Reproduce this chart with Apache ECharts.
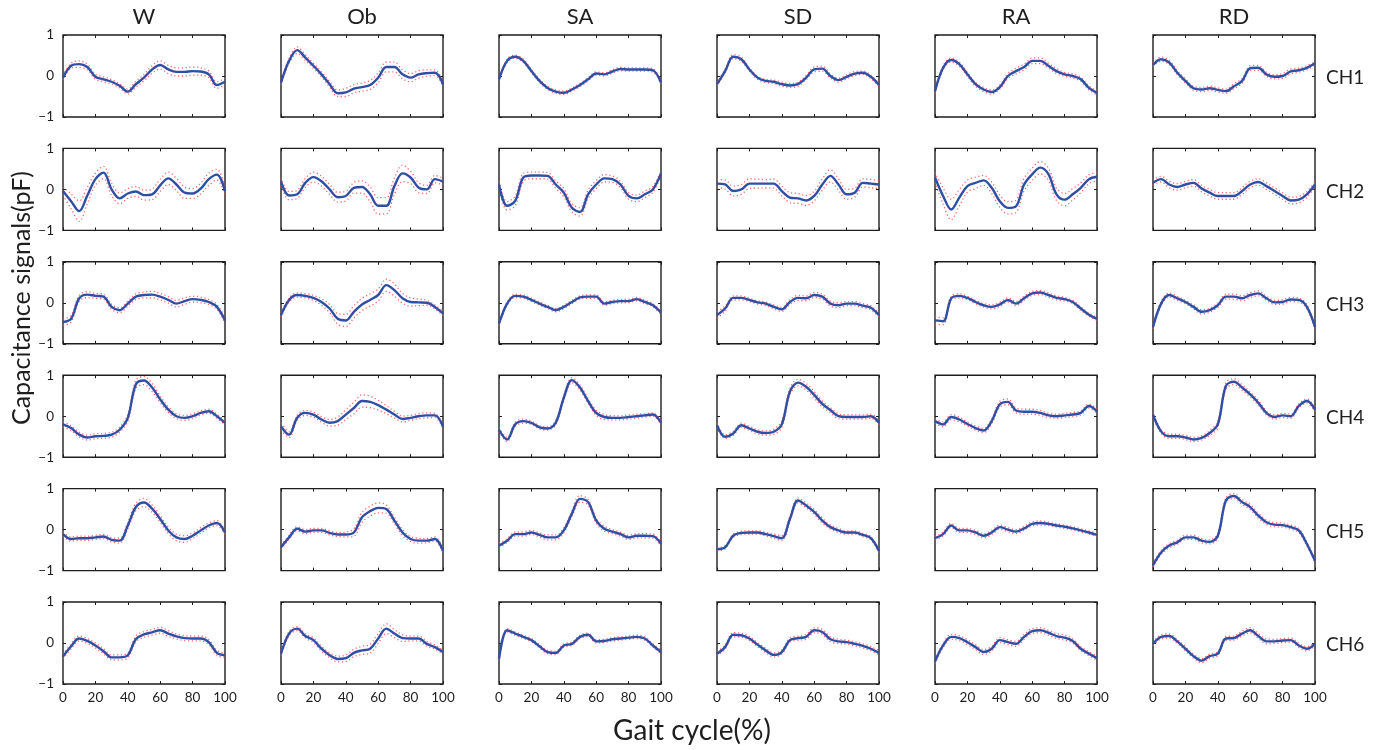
<!DOCTYPE html>
<html><head><meta charset="utf-8">
<script src="https://cdn.jsdelivr.net/npm/echarts@6/dist/echarts.min.js"></script>
<style>html,body{margin:0;padding:0;background:#fff}#c{width:1390px;height:750px}</style>
</head><body><div id="c"></div>
<script>
// ---- data ----
const xPct = [0,5,10,15,20,25,30,35,40,45,50,55,60,65,70,75,80,85,90,95,100];
const xTickLabels = ['0','20','40','60','80','100'];
const yTickLabels = ['−1','0','1'];
const conditions = ['W','Ob','SA','SD','RA','RD'];
const channels = ['CH1','CH2','CH3','CH4','CH5','CH6'];
const xTitle = 'Gait cycle(%)';
const yTitle = 'Capacitance signals(pF)';

// mean curves (blue)
const W_CH1  = [-0.04,0.25,0.29,0.22,-0.02,-0.08,-0.14,-0.24,-0.38,-0.2,-0.04,0.16,0.27,0.16,0.1,0.1,0.12,0.11,0.04,-0.22,-0.14];
const Ob_CH1 = [-0.16,0.37,0.63,0.45,0.25,0.04,-0.2,-0.42,-0.4,-0.31,-0.27,-0.22,-0.04,0.22,0.22,0.04,-0.04,0.04,0.07,0.08,-0.2];
const SA_CH1 = [-0.08,0.37,0.47,0.37,0.12,-0.12,-0.29,-0.38,-0.41,-0.33,-0.22,-0.08,0.06,0.04,0.11,0.17,0.16,0.16,0.16,0.14,-0.16];
const SD_CH1 = [-0.2,0.12,0.47,0.41,0.16,-0.04,-0.12,-0.14,-0.2,-0.23,-0.2,-0.04,0.16,0.18,0,-0.1,-0.02,0.06,0.08,-0.02,-0.22];
const RA_CH1 = [-0.37,0.2,0.39,0.29,0.04,-0.2,-0.33,-0.39,-0.27,0,0.12,0.22,0.37,0.37,0.25,0.12,0.04,0,-0.08,-0.29,-0.41];
const RD_CH1 = [0.27,0.41,0.33,0.08,-0.12,-0.3,-0.33,-0.3,-0.34,-0.37,-0.25,-0.12,0.19,0.2,0.04,-0.02,0,0.11,0.14,0.2,0.31];

const W_CH2  = [-0.04,-0.29,-0.53,-0.15,0.25,0.41,0,-0.22,-0.1,-0.05,-0.14,-0.12,0.1,0.27,0.12,-0.08,-0.1,0.02,0.25,0.36,-0.04];
const Ob_CH2 = [0.19,-0.15,-0.12,0.16,0.3,0.2,0,-0.19,-0.16,0.04,0.06,-0.12,-0.4,-0.4,0.08,0.39,0.29,0.04,0,0.25,0.19];
const SA_CH2 = [0.12,-0.4,-0.28,0.29,0.34,0.34,0.33,0.12,-0.08,-0.45,-0.55,-0.12,0.12,0.27,0.25,0.12,-0.16,-0.22,-0.12,0,0.39];
const SD_CH2 = [0.14,0.12,-0.04,0,0.14,0.14,0.14,0.14,-0.04,-0.2,-0.22,-0.27,-0.16,0.12,0.33,0.12,-0.12,-0.08,0.16,0.14,0.12];
const RA_CH2 = [0.29,-0.16,-0.49,-0.2,0.08,0.16,0.22,0.04,-0.29,-0.45,-0.41,0.12,0.37,0.53,0.37,-0.12,-0.25,-0.12,0.04,0.25,0.31];
const RD_CH2 = [0.16,0.25,0.12,0.06,0.12,0.16,0.02,-0.08,-0.16,-0.16,-0.16,-0.04,0.12,0.18,0.08,-0.04,-0.16,-0.27,-0.25,-0.12,0.12];

const W_CH3  = [-0.47,-0.39,0.11,0.2,0.17,0.15,-0.1,-0.18,-0.02,0.15,0.19,0.2,0.15,0.07,-0.02,0.04,0.09,0.07,0.02,-0.1,-0.43];
const Ob_CH3 = [-0.3,0.07,0.19,0.17,0.12,0.02,-0.14,-0.39,-0.43,-0.22,-0.04,0.07,0.19,0.43,0.31,0.11,0.02,0.01,0,-0.1,-0.26];
const SA_CH3 = [-0.51,-0.02,0.17,0.15,0.07,-0.02,-0.1,-0.18,-0.1,0.02,0.13,0.15,0.15,-0.02,0.02,0.04,0.04,0.09,0.02,-0.06,-0.24];
const SD_CH3 = [-0.3,-0.14,0.12,0.12,0.07,0.01,-0.02,-0.1,-0.16,0.02,0.12,0.11,0.19,0.15,-0.02,-0.06,-0.02,-0.02,-0.07,-0.12,-0.3];
const RA_CH3 = [-0.43,-0.45,0.11,0.17,0.12,0.02,-0.06,-0.1,-0.04,0.07,-0.02,0.11,0.23,0.25,0.19,0.12,0.09,0.02,-0.14,-0.29,-0.39];
const RD_CH3 = [-0.59,-0.02,0.19,0.11,0.02,-0.1,-0.22,-0.18,-0.06,0.15,0.15,0.11,0.19,0.23,0.11,0.01,0.02,0.08,0.07,-0.1,-0.59];

const W_CH4  = [-0.2,-0.29,-0.45,-0.52,-0.49,-0.48,-0.45,-0.33,-0.04,0.78,0.87,0.7,0.41,0.16,0,-0.04,0,0.08,0.12,0,-0.16];
const Ob_CH4 = [-0.25,-0.45,-0.04,0.08,0.04,-0.08,-0.16,-0.12,0.04,0.2,0.37,0.35,0.27,0.16,0.04,-0.07,-0.04,0,0.02,0.02,-0.25];
const SA_CH4 = [-0.33,-0.57,-0.2,-0.12,-0.16,-0.27,-0.3,-0.16,0.45,0.88,0.7,0.37,0.08,-0.02,-0.04,-0.04,-0.02,0,0.02,0.04,-0.16];
const SD_CH4 = [-0.22,-0.5,-0.42,-0.22,-0.3,-0.38,-0.41,-0.38,-0.2,0.6,0.82,0.72,0.52,0.3,0.15,0,-0.02,-0.02,-0.02,0,-0.16];
const RA_CH4 = [-0.12,-0.2,-0.02,-0.08,-0.19,-0.29,-0.35,-0.12,0.29,0.35,0.14,0.11,0.11,0.08,0.02,0,0.02,0.04,0.08,0.25,0.12];
const RD_CH4 = [0.04,-0.37,-0.49,-0.49,-0.52,-0.57,-0.53,-0.41,-0.2,0.74,0.84,0.7,0.53,0.33,0.08,-0.02,0.02,0,0.25,0.37,0.16];

const W_CH5  = [-0.11,-0.23,-0.21,-0.21,-0.19,-0.17,-0.25,-0.27,0.1,0.55,0.66,0.51,0.26,-0.02,-0.19,-0.23,-0.15,-0.02,0.1,0.16,-0.07];
const Ob_CH5 = [-0.43,-0.19,0.02,-0.05,-0.02,-0.02,-0.08,-0.12,-0.12,-0.07,0.3,0.45,0.53,0.5,0.22,-0.07,-0.23,-0.27,-0.27,-0.23,-0.52];
const SA_CH5 = [-0.39,-0.27,-0.11,-0.11,-0.07,-0.13,-0.19,-0.19,-0.02,0.39,0.75,0.67,0.22,0.02,-0.05,-0.11,-0.19,-0.15,-0.15,-0.16,-0.35];
const SD_CH5 = [-0.48,-0.43,-0.15,-0.08,-0.07,-0.07,-0.11,-0.16,-0.21,0.26,0.71,0.59,0.43,0.22,0.06,-0.02,-0.07,-0.07,-0.13,-0.21,-0.52];
const RA_CH5 = [-0.21,-0.11,0.1,-0.02,-0.02,-0.07,-0.15,-0.07,0.06,0,-0.05,0.03,0.14,0.16,0.14,0.1,0.07,0.03,-0.02,-0.07,-0.13];
const RD_CH5 = [-0.87,-0.56,-0.39,-0.31,-0.19,-0.19,-0.27,-0.3,-0.15,0.71,0.82,0.67,0.55,0.34,0.18,0.12,0.11,0.06,-0.02,-0.35,-0.76];

const W_CH6  = [-0.33,-0.08,0.11,0.05,-0.06,-0.2,-0.35,-0.35,-0.3,0.1,0.21,0.26,0.31,0.23,0.16,0.12,0.11,0.11,0.02,-0.24,-0.3];
const Ob_CH6 = [-0.26,0.23,0.35,0.17,0.07,-0.14,-0.3,-0.39,-0.37,-0.24,-0.18,-0.14,0.11,0.35,0.23,0.12,0.11,0.11,-0.02,-0.1,-0.22];
const SA_CH6 = [-0.39,0.31,0.23,0.15,0.07,-0.08,-0.22,-0.24,-0.06,-0.02,0.15,0.2,0.04,0.05,0.09,0.11,0.13,0.15,0.11,-0.06,-0.22];
const SD_CH6 = [-0.26,-0.1,0.2,0.19,0.11,-0.04,-0.18,-0.29,-0.22,0.07,0.12,0.15,0.31,0.27,0.09,0.04,0.02,-0.02,-0.07,-0.14,-0.24];
const RA_CH6 = [-0.45,-0.06,0.15,0.12,0.02,-0.1,-0.22,-0.14,0.07,0.02,-0.02,0.15,0.29,0.31,0.25,0.17,0.13,0.05,-0.14,-0.26,-0.37];
const RD_CH6 = [-0.02,0.15,0.17,0.04,-0.14,-0.32,-0.43,-0.32,-0.26,0.11,0.12,0.23,0.31,0.17,0.04,0.04,0.06,0.07,-0.06,-0.14,-0.02];

// standard deviation band half-widths (red dotted)
const W_CH1_sd  = [0.05,0.06,0.08,0.07,0.06,0.06,0.05,0.05,0.06,0.07,0.08,0.09,0.1,0.1,0.1,0.1,0.1,0.09,0.08,0.08,0.08];
const Ob_CH1_sd = [0.05,0.06,0.08,0.07,0.06,0.06,0.07,0.08,0.1,0.1,0.1,0.11,0.12,0.12,0.12,0.11,0.1,0.09,0.08,0.07,0.06];
const SA_CH1_sd = [0.03,0.04,0.04,0.04,0.04,0.04,0.04,0.04,0.04,0.04,0.04,0.04,0.04,0.04,0.04,0.04,0.04,0.04,0.04,0.04,0.03];
const SD_CH1_sd = [0.04,0.05,0.05,0.05,0.04,0.04,0.04,0.04,0.05,0.05,0.05,0.05,0.06,0.06,0.05,0.05,0.05,0.05,0.04,0.04,0.04];
const RA_CH1_sd = [0.05,0.05,0.05,0.05,0.05,0.05,0.05,0.05,0.05,0.06,0.07,0.07,0.07,0.07,0.06,0.06,0.05,0.05,0.05,0.05,0.05];
const RD_CH1_sd = [0.04,0.05,0.05,0.05,0.05,0.05,0.05,0.05,0.05,0.05,0.06,0.06,0.06,0.06,0.05,0.05,0.06,0.06,0.05,0.05,0.04];

const W_CH2_sd  = [0.1,0.18,0.25,0.2,0.15,0.15,0.15,0.13,0.12,0.12,0.12,0.13,0.15,0.15,0.15,0.14,0.12,0.13,0.15,0.13,0.1];
const Ob_CH2_sd = [0.1,0.1,0.1,0.11,0.12,0.12,0.12,0.12,0.12,0.13,0.15,0.18,0.2,0.2,0.2,0.2,0.15,0.12,0.1,0.09,0.08];
const SA_CH2_sd = [0.08,0.1,0.12,0.1,0.08,0.08,0.08,0.09,0.1,0.1,0.1,0.1,0.1,0.09,0.08,0.08,0.08,0.08,0.08,0.07,0.06];
const SD_CH2_sd = [0.1,0.11,0.12,0.12,0.12,0.11,0.1,0.11,0.12,0.12,0.12,0.12,0.12,0.14,0.15,0.14,0.12,0.11,0.1,0.1,0.1];
const RA_CH2_sd = [0.12,0.2,0.25,0.2,0.15,0.14,0.12,0.14,0.15,0.15,0.15,0.15,0.15,0.15,0.15,0.15,0.15,0.14,0.12,0.11,0.1];
const RD_CH2_sd = [0.06,0.07,0.08,0.08,0.08,0.08,0.08,0.08,0.08,0.08,0.08,0.08,0.08,0.08,0.08,0.08,0.08,0.08,0.08,0.07,0.06];

const W_CH3_sd  = [0.08,0.08,0.07,0.07,0.06,0.06,0.06,0.06,0.06,0.07,0.07,0.08,0.08,0.08,0.08,0.08,0.07,0.07,0.06,0.06,0.05];
const Ob_CH3_sd = [0.05,0.05,0.05,0.05,0.06,0.08,0.1,0.13,0.15,0.15,0.15,0.15,0.15,0.15,0.15,0.12,0.1,0.08,0.06,0.05,0.05];
const SA_CH3_sd = [0.04,0.04,0.04,0.04,0.04,0.04,0.04,0.04,0.04,0.04,0.04,0.04,0.04,0.04,0.04,0.04,0.04,0.04,0.04,0.04,0.04];
const SD_CH3_sd = [0.08,0.06,0.05,0.05,0.04,0.04,0.04,0.05,0.05,0.06,0.06,0.06,0.06,0.06,0.06,0.06,0.05,0.05,0.05,0.05,0.04];
const RA_CH3_sd = [0.1,0.08,0.05,0.05,0.04,0.04,0.04,0.05,0.05,0.05,0.05,0.05,0.05,0.05,0.05,0.05,0.04,0.04,0.04,0.04,0.04];
const RD_CH3_sd = [0.05,0.05,0.05,0.05,0.04,0.05,0.05,0.05,0.05,0.06,0.06,0.06,0.06,0.06,0.05,0.05,0.05,0.05,0.05,0.05,0.05];

const W_CH4_sd  = [0.06,0.06,0.06,0.06,0.06,0.06,0.06,0.06,0.08,0.1,0.1,0.1,0.08,0.07,0.06,0.06,0.06,0.05,0.05,0.05,0.05];
const Ob_CH4_sd = [0.08,0.07,0.06,0.06,0.06,0.07,0.08,0.1,0.12,0.14,0.15,0.14,0.12,0.1,0.08,0.07,0.06,0.06,0.06,0.05,0.05];
const SA_CH4_sd = [0.05,0.05,0.05,0.05,0.04,0.04,0.04,0.05,0.06,0.06,0.06,0.06,0.06,0.06,0.05,0.05,0.05,0.05,0.04,0.04,0.04];
const SD_CH4_sd = [0.05,0.05,0.05,0.05,0.05,0.05,0.05,0.06,0.08,0.08,0.08,0.08,0.08,0.07,0.06,0.06,0.05,0.05,0.05,0.05,0.05];
const RA_CH4_sd = [0.05,0.06,0.06,0.06,0.05,0.05,0.05,0.06,0.07,0.07,0.06,0.06,0.06,0.06,0.05,0.05,0.05,0.05,0.05,0.05,0.05];
const RD_CH4_sd = [0.05,0.05,0.05,0.05,0.05,0.05,0.05,0.06,0.08,0.08,0.07,0.07,0.06,0.06,0.05,0.05,0.05,0.05,0.05,0.05,0.05];

const W_CH5_sd  = [0.05,0.05,0.05,0.05,0.05,0.05,0.05,0.06,0.08,0.09,0.1,0.09,0.08,0.08,0.08,0.08,0.07,0.07,0.06,0.06,0.05];
const Ob_CH5_sd = [0.05,0.05,0.05,0.05,0.05,0.05,0.05,0.05,0.06,0.09,0.12,0.12,0.12,0.1,0.08,0.07,0.06,0.06,0.05,0.05,0.05];
const SA_CH5_sd = [0.05,0.05,0.05,0.05,0.05,0.05,0.06,0.06,0.06,0.07,0.08,0.07,0.06,0.06,0.05,0.05,0.05,0.05,0.05,0.05,0.05];
const SD_CH5_sd = [0.04,0.04,0.04,0.04,0.04,0.04,0.04,0.05,0.06,0.06,0.06,0.06,0.06,0.06,0.05,0.05,0.04,0.04,0.04,0.04,0.04];
const RA_CH5_sd = [0.04,0.05,0.05,0.05,0.05,0.05,0.05,0.05,0.05,0.05,0.05,0.05,0.05,0.05,0.04,0.04,0.04,0.04,0.04,0.04,0.04];
const RD_CH5_sd = [0.04,0.05,0.05,0.05,0.05,0.05,0.05,0.05,0.06,0.06,0.06,0.06,0.06,0.06,0.05,0.05,0.05,0.05,0.05,0.05,0.04];

const W_CH6_sd  = [0.05,0.06,0.06,0.06,0.06,0.06,0.06,0.06,0.06,0.07,0.07,0.07,0.07,0.07,0.06,0.06,0.06,0.06,0.06,0.06,0.05];
const Ob_CH6_sd = [0.05,0.05,0.05,0.05,0.06,0.06,0.06,0.07,0.08,0.09,0.1,0.11,0.12,0.12,0.1,0.08,0.06,0.06,0.06,0.05,0.05];
const SA_CH6_sd = [0.04,0.04,0.04,0.04,0.04,0.04,0.04,0.04,0.04,0.04,0.04,0.04,0.04,0.04,0.04,0.04,0.04,0.04,0.04,0.04,0.04];
const SD_CH6_sd = [0.05,0.05,0.05,0.05,0.05,0.05,0.05,0.05,0.05,0.05,0.05,0.06,0.06,0.06,0.06,0.05,0.05,0.05,0.05,0.05,0.05];
const RA_CH6_sd = [0.05,0.05,0.06,0.06,0.06,0.06,0.06,0.06,0.06,0.06,0.06,0.06,0.06,0.06,0.06,0.06,0.06,0.05,0.05,0.05,0.05];
const RD_CH6_sd = [0.04,0.05,0.05,0.05,0.05,0.05,0.05,0.05,0.05,0.05,0.05,0.06,0.06,0.06,0.06,0.05,0.05,0.05,0.05,0.05,0.04];

const meanRows = [
  [W_CH1,Ob_CH1,SA_CH1,SD_CH1,RA_CH1,RD_CH1],
  [W_CH2,Ob_CH2,SA_CH2,SD_CH2,RA_CH2,RD_CH2],
  [W_CH3,Ob_CH3,SA_CH3,SD_CH3,RA_CH3,RD_CH3],
  [W_CH4,Ob_CH4,SA_CH4,SD_CH4,RA_CH4,RD_CH4],
  [W_CH5,Ob_CH5,SA_CH5,SD_CH5,RA_CH5,RD_CH5],
  [W_CH6,Ob_CH6,SA_CH6,SD_CH6,RA_CH6,RD_CH6]
];
const sdRows = [
  [W_CH1_sd,Ob_CH1_sd,SA_CH1_sd,SD_CH1_sd,RA_CH1_sd,RD_CH1_sd],
  [W_CH2_sd,Ob_CH2_sd,SA_CH2_sd,SD_CH2_sd,RA_CH2_sd,RD_CH2_sd],
  [W_CH3_sd,Ob_CH3_sd,SA_CH3_sd,SD_CH3_sd,RA_CH3_sd,RD_CH3_sd],
  [W_CH4_sd,Ob_CH4_sd,SA_CH4_sd,SD_CH4_sd,RA_CH4_sd,RD_CH4_sd],
  [W_CH5_sd,Ob_CH5_sd,SA_CH5_sd,SD_CH5_sd,RA_CH5_sd,RD_CH5_sd],
  [W_CH6_sd,Ob_CH6_sd,SA_CH6_sd,SD_CH6_sd,RA_CH6_sd,RD_CH6_sd]
];

// ---- layout ----
const FONT = 'Lato, "Open Sans", sans-serif';
const LEFT0 = 63, COLSTEP = 218, GW = 162;
const TOP0 = 35, ROWSTEP = 113.4, GH = 82;
const BLUE = '#2f4ea6', RED = '#ff4a4a', INK = '#1e1e1e';

const grids = [], xAxes = [], yAxes = [], series = [];
for (let r = 0; r < 6; r++) {
  for (let c = 0; c < 6; c++) {
    const g = r * 6 + c;
    grids.push({left: LEFT0 + c * COLSTEP, top: TOP0 + r * ROWSTEP, width: GW, height: GH,
      show: true, borderColor: INK, borderWidth: 1.4, backgroundColor: 'transparent'});
    const xBase = {type: 'value', gridIndex: g, min: 0, max: 100, interval: 20,
      axisLine: {show: false, onZero: false}, splitLine: {show: false},
      axisTick: {inside: true, length: 3, lineStyle: {color: INK, width: 1}}};
    xAxes.push(Object.assign({}, xBase, {position: 'bottom',
      axisLabel: {show: r === 5, margin: 7, color: INK, fontSize: 13.5, fontFamily: FONT,
        formatter: v => xTickLabels[Math.round(v / 20)]}}));
    xAxes.push(Object.assign({}, xBase, {position: 'top', axisLabel: {show: false}}));
    const yBase = {type: 'value', gridIndex: g, min: -1, max: 1, interval: 1,
      axisLine: {show: false, onZero: false}, splitLine: {show: false},
      axisTick: {inside: true, length: 3, lineStyle: {color: INK, width: 1}}};
    yAxes.push(Object.assign({}, yBase, {position: 'left',
      axisLabel: {show: c === 0, margin: 9, color: INK, fontSize: 13.5, fontFamily: FONT,
        formatter: v => yTickLabels[Math.round(v) + 1]}}));
    yAxes.push(Object.assign({}, yBase, {position: 'right', axisLabel: {show: false}}));

    const m = meanRows[r][c], s = sdRows[r][c];
    const up = xPct.map((x, i) => [x, +(m[i] + s[i]).toFixed(3)]);
    const lo = xPct.map((x, i) => [x, +(m[i] - s[i]).toFixed(3)]);
    const mid = xPct.map((x, i) => [x, m[i]]);
    const common = {type: 'line', xAxisIndex: 2 * g, yAxisIndex: 2 * g, symbol: 'none',
      smooth: 0.35, silent: true, animation: false, clip: true};
    series.push(Object.assign({}, common, {name: conditions[c] + ' ' + channels[r] + ' +sd', data: up, z: 2,
      lineStyle: {color: RED, width: 1.3, type: [1.2, 2.6], opacity: 0.85}}));
    series.push(Object.assign({}, common, {name: conditions[c] + ' ' + channels[r] + ' -sd', data: lo, z: 2,
      lineStyle: {color: RED, width: 1.3, type: [1.2, 2.6], opacity: 0.85}}));
    series.push(Object.assign({}, common, {name: conditions[c] + ' ' + channels[r] + ' mean', data: mid, z: 3,
      lineStyle: {color: BLUE, width: 2.4}}));
  }
}

const graphics = [];
conditions.forEach((t, c) => graphics.push({type: 'text', x: LEFT0 + c * COLSTEP + GW / 2, y: 17,
  style: {text: t, fill: INK, font: '22px ' + FONT, textAlign: 'center', textVerticalAlign: 'middle'}}));
channels.forEach((t, r) => graphics.push({type: 'text', x: LEFT0 + 5 * COLSTEP + GW + 11, y: TOP0 + r * ROWSTEP + GH / 2 + 2,
  style: {text: t, fill: INK, font: '19px ' + FONT, textAlign: 'left', textVerticalAlign: 'middle'}}));
graphics.push({type: 'text', x: 692, y: 731,
  style: {text: xTitle, fill: INK, font: '28px ' + FONT, textAlign: 'center', textVerticalAlign: 'middle'}});
graphics.push({type: 'text', x: 22, y: 298, rotation: Math.PI / 2,
  style: {text: yTitle, fill: INK, font: '25px ' + FONT, textAlign: 'center', textVerticalAlign: 'middle'}});

const chart = echarts.init(document.getElementById('c'), null, {renderer: 'canvas'});
chart.setOption({
  backgroundColor: '#ffffff',
  animation: false,
  grid: grids, xAxis: xAxes, yAxis: yAxes, series: series, graphic: graphics
});
</script></body></html>
